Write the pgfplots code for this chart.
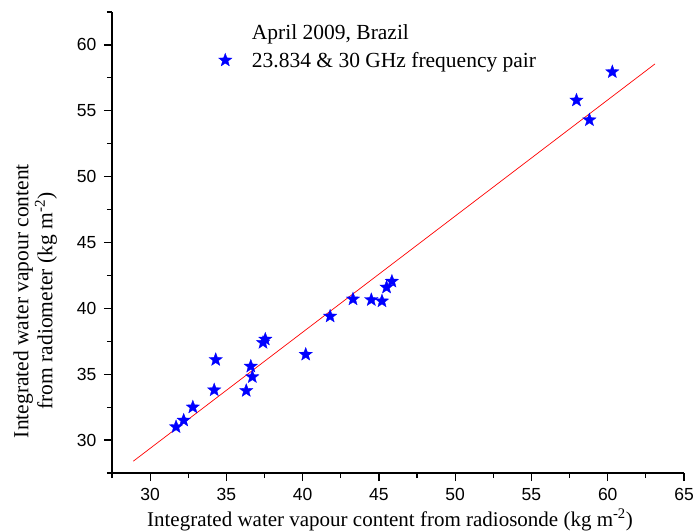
\documentclass[border=0pt]{standalone}
\usepackage{pgfplots}
\pgfplotsset{compat=1.18}
\usepackage{fontspec}
\setmainfont{Liberation Serif}
\newfontfamily\arialfont{Liberation Sans}
\pgfdeclareplotmark{fstar}{%
  \pgfpathmoveto{\pgfpointpolar{90}{\pgfplotmarksize}}%
  \pgfpathlineto{\pgfpointpolar{126}{0.42\pgfplotmarksize}}%
  \pgfpathlineto{\pgfpointpolar{162}{\pgfplotmarksize}}%
  \pgfpathlineto{\pgfpointpolar{198}{0.42\pgfplotmarksize}}%
  \pgfpathlineto{\pgfpointpolar{234}{\pgfplotmarksize}}%
  \pgfpathlineto{\pgfpointpolar{270}{0.42\pgfplotmarksize}}%
  \pgfpathlineto{\pgfpointpolar{306}{\pgfplotmarksize}}%
  \pgfpathlineto{\pgfpointpolar{342}{0.42\pgfplotmarksize}}%
  \pgfpathlineto{\pgfpointpolar{18}{\pgfplotmarksize}}%
  \pgfpathlineto{\pgfpointpolar{54}{0.42\pgfplotmarksize}}%
  \pgfpathclose\pgfusepathqfillstroke}
\begin{document}
\begin{tikzpicture}
\begin{axis}[
  name=ax,
  scale only axis,
  width=572pt, height=461pt,
  xmin=27.5, xmax=65, ymin=27.5, ymax=62.5,
  axis x line*=bottom, axis y line*=left,
  axis line style={line width=1.6pt},
  tick align=outside,
  xtick={30,35,...,65}, ytick={30,35,...,60},
  minor xtick={27.5,32.5,...,62.5}, minor ytick={27.5,32.5,...,62.5},
  major tick length=8pt, minor tick length=5pt,
  every tick/.style={line width=1.2pt, black},
  tick label style={font=\arialfont\fontsize{17.5}{18}\selectfont},
  xticklabel style={yshift=-4pt},
  yticklabel style={xshift=-4pt},
  /pgf/number format/assume math mode=true,
  xlabel={Integrated water vapour content from radiosonde (kg m\textsuperscript{-2})},
  ylabel={Integrated water vapour content\\from radiometer (kg m\textsuperscript{-2})},
  ylabel style={align=center, font=\fontsize{21.5}{24}\selectfont,
    at={(axis description cs:-0.134,0.373)}, anchor=center},
  xlabel style={font=\fontsize{21}{23}\selectfont,
    at={(axis description cs:0.486,-0.115)}, anchor=base},
  legend style={draw=none, fill=none, at={(0.1775,0.982)}, anchor=north west,
    font=\fontsize{21.5}{24}\selectfont, row sep=7pt, column sep=18pt},
  legend cell align=left,
  clip=false,
]
\addlegendimage{empty legend}
\addlegendentry{April 2009, Brazil}
\addplot[only marks, mark=fstar, mark size=7pt, blue, mark options={fill=blue, draw=blue, line width=0.3pt}] coordinates {
(31.7,31.0) (32.2,31.5) (32.8,32.5) (34.3,36.1) (34.2,33.8)
(36.3,33.75) (36.6,35.6) (36.7,34.8) (37.4,37.4) (37.55,37.65)
(40.2,36.5) (41.8,39.4) (43.3,40.7) (44.5,40.65) (45.2,40.55)
(45.5,41.6) (45.85,42.05) (57.95,55.8) (58.8,54.3) (60.3,57.95)
};
\addlegendentry{23.834 \& 30 GHz frequency pair}
\addplot[red, line width=0.7pt, forget plot] coordinates {(28.9,28.4) (63.1,58.56)};
\end{axis}
\pgfresetboundingbox
\path (ax.south west) ++(-112pt,-57pt) rectangle ++(693pt,530pt);
\end{tikzpicture}
\end{document}
